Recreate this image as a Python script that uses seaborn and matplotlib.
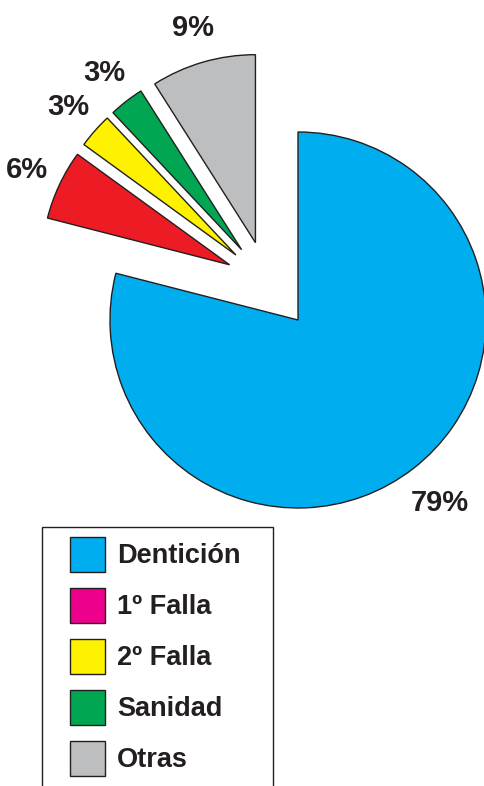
import matplotlib
matplotlib.use('Agg')
import matplotlib.pyplot as plt
from matplotlib.patches import Patch, Rectangle
import seaborn as sns

# Données
categorias = ['Dentición', '1º Falla', '2º Falla', 'Sanidad', 'Otras']
porcentajes = [79, 6, 3, 3, 9]
colores_torta = ['#00AEEF', '#ED1C24', '#FFF200', '#00A651', '#BCBEC0']
colores_leyenda = ['#00AEEF', '#EC008C', '#FFF200', '#00A651', '#BCBEC0']
separacion = [0, 0.22, 0.22, 0.22, 0.22]

sns.set_style('white')
plt.rcParams['font.family'] = ['Liberation Sans', 'DejaVu Sans']
tinta = '#231F20'

W, H = 485, 786
fig = plt.figure(figsize=(W / 100, H / 100), dpi=100)
ax = fig.add_axes([0, 0, 1, 1])

pal = sns.color_palette(colores_torta)
estilo = dict(colors=pal, startangle=90, counterclock=False, autopct='%.0f%%',
              wedgeprops=dict(edgecolor=tinta, linewidth=1.0),
              textprops=dict(fontsize=21, fontweight='bold', color=tinta))

# porción grande
w1, t1, a1 = ax.pie(porcentajes, pctdistance=1.23, **estilo)
for w, a in zip(w1[1:], a1[1:]):
    w.set_visible(False)
    a.set_visible(False)

# porciones pequeñas, desplazadas en grupo
w2, t2, a2 = ax.pie(porcentajes, explode=separacion, center=(-0.165, 0.2),
                    pctdistance=1.19, **estilo)
w2[0].set_visible(False)
a2[0].set_visible(False)

# ventana: centro en (298, 320) px, radio 188 px
r = 188.0
cx, cy = 298, 320
ax.set_xlim(-cx / r, (W - cx) / r)
ax.set_ylim(-(H - cy) / r, cy / r)
ax.set_aspect('auto')
ax.axis('off')

# Leyenda
manijas = [Patch(facecolor=c, edgecolor=tinta, linewidth=1.0) for c in colores_leyenda]
fig.legend(manijas, categorias, loc='upper left',
           bbox_to_anchor=(70 / W, 1 - 537 / H), bbox_transform=fig.transFigure,
           frameon=False, borderpad=0, borderaxespad=0,
           handlelength=1.28, handleheight=1.6, handletextpad=0.45,
           labelspacing=0.6, prop=dict(size=19.5, weight='bold'),
           labelcolor=tinta)
fig.add_artist(Rectangle((42 / W, -0.01), (273 - 42) / W, (H - 527) / H + 0.01,
                         transform=fig.transFigure, fill=False,
                         edgecolor=tinta, linewidth=1.0))

plt.savefig('out.png', dpi=100, facecolor='white')
plt.close()
